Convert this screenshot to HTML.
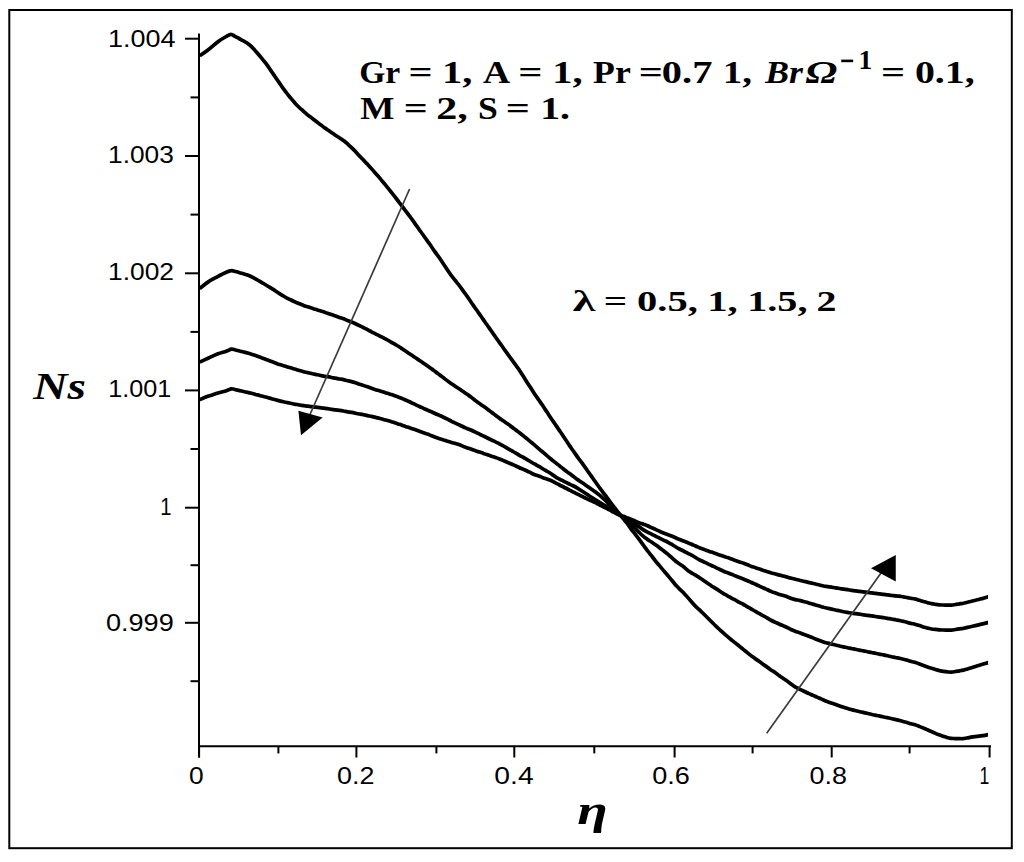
<!DOCTYPE html>
<html><head><meta charset="utf-8"><style>
html,body{margin:0;padding:0;background:#fff;}
svg{display:block;}
text{font-kerning:none;fill:#000;}
</style></head><body>
<svg width="1024" height="862" viewBox="0 0 1024 862">
<rect width="1024" height="862" fill="#fff"/>
<rect x="9.3" y="10" width="1002.5" height="838.2" fill="none" stroke="#000" stroke-width="2"/>
<line x1="199" y1="33.5" x2="199" y2="757.5" stroke="#000" stroke-width="2"/>
<line x1="198" y1="746.2" x2="991" y2="746.2" stroke="#000" stroke-width="2"/>
<line x1="185" y1="38.7" x2="199" y2="38.7" stroke="#000" stroke-width="2"/>
<line x1="185" y1="156.0" x2="199" y2="156.0" stroke="#000" stroke-width="2"/>
<line x1="185" y1="273.3" x2="199" y2="273.3" stroke="#000" stroke-width="2"/>
<line x1="185" y1="390.4" x2="199" y2="390.4" stroke="#000" stroke-width="2"/>
<line x1="185" y1="507.7" x2="199" y2="507.7" stroke="#000" stroke-width="2"/>
<line x1="185" y1="622.8" x2="199" y2="622.8" stroke="#000" stroke-width="2"/>
<line x1="190.5" y1="97.4" x2="199" y2="97.4" stroke="#000" stroke-width="2"/>
<line x1="190.5" y1="214.6" x2="199" y2="214.6" stroke="#000" stroke-width="2"/>
<line x1="190.5" y1="331.9" x2="199" y2="331.9" stroke="#000" stroke-width="2"/>
<line x1="190.5" y1="449.0" x2="199" y2="449.0" stroke="#000" stroke-width="2"/>
<line x1="190.5" y1="565.2" x2="199" y2="565.2" stroke="#000" stroke-width="2"/>
<line x1="190.5" y1="681.2" x2="199" y2="681.2" stroke="#000" stroke-width="2"/>
<line x1="199.1" y1="746.2" x2="199.1" y2="757.5" stroke="#000" stroke-width="2"/>
<line x1="278.4" y1="746.2" x2="278.4" y2="753.4000000000001" stroke="#000" stroke-width="2"/>
<line x1="356.4" y1="746.2" x2="356.4" y2="757.5" stroke="#000" stroke-width="2"/>
<line x1="436.4" y1="746.2" x2="436.4" y2="753.4000000000001" stroke="#000" stroke-width="2"/>
<line x1="514.3" y1="746.2" x2="514.3" y2="757.5" stroke="#000" stroke-width="2"/>
<line x1="594.3" y1="746.2" x2="594.3" y2="753.4000000000001" stroke="#000" stroke-width="2"/>
<line x1="674.6" y1="746.2" x2="674.6" y2="757.5" stroke="#000" stroke-width="2"/>
<line x1="752.6" y1="746.2" x2="752.6" y2="753.4000000000001" stroke="#000" stroke-width="2"/>
<line x1="831.7" y1="746.2" x2="831.7" y2="757.5" stroke="#000" stroke-width="2"/>
<line x1="909.6" y1="746.2" x2="909.6" y2="753.4000000000001" stroke="#000" stroke-width="2"/>
<line x1="989.6" y1="746.2" x2="989.6" y2="757.5" stroke="#000" stroke-width="2"/>
<text transform="translate(108.05,46.70) scale(1.1000,1)" style="font-family:'Liberation Sans',sans-serif;font-weight:normal;font-style:normal;font-size:24.5px">1.004</text>
<text transform="translate(108.10,162.50) scale(1.0725,1)" style="font-family:'Liberation Sans',sans-serif;font-weight:normal;font-style:normal;font-size:24.5px">1.003</text>
<text transform="translate(108.09,279.50) scale(1.0754,1)" style="font-family:'Liberation Sans',sans-serif;font-weight:normal;font-style:normal;font-size:24.5px">1.002</text>
<text transform="translate(108.18,397.20) scale(1.0284,1)" style="font-family:'Liberation Sans',sans-serif;font-weight:normal;font-style:normal;font-size:24.5px">1.001</text>
<text transform="translate(160.26,514.50) scale(0.8236,1)" style="font-family:'Liberation Sans',sans-serif;font-weight:normal;font-style:normal;font-size:24.5px">1</text>
<text transform="translate(105.94,630.80) scale(1.1066,1)" style="font-family:'Liberation Sans',sans-serif;font-weight:normal;font-style:normal;font-size:24.5px">0.999</text>
<text transform="translate(189.07,784.30) scale(1.0758,1)" style="font-family:'Liberation Sans',sans-serif;font-weight:normal;font-style:normal;font-size:24.5px">0</text>
<text transform="translate(337.05,784.30) scale(1.0982,1)" style="font-family:'Liberation Sans',sans-serif;font-weight:normal;font-style:normal;font-size:24.5px">0.2</text>
<text transform="translate(494.29,784.30) scale(1.1549,1)" style="font-family:'Liberation Sans',sans-serif;font-weight:normal;font-style:normal;font-size:24.5px">0.4</text>
<text transform="translate(652.24,784.30) scale(1.1054,1)" style="font-family:'Liberation Sans',sans-serif;font-weight:normal;font-style:normal;font-size:24.5px">0.6</text>
<text transform="translate(809.55,784.30) scale(1.0987,1)" style="font-family:'Liberation Sans',sans-serif;font-weight:normal;font-style:normal;font-size:24.5px">0.8</text>
<text transform="translate(979.46,784.30) scale(0.7195,1)" style="font-family:'Liberation Sans',sans-serif;font-weight:normal;font-style:normal;font-size:24.5px">1</text>
<path d="M199.7,55.8 C201.2,54.8 205.5,51.9 208.6,49.5 C211.7,47.1 215.1,43.9 218.0,41.7 C220.9,39.5 224.1,37.7 226.3,36.5 C228.5,35.3 229.6,34.4 231.0,34.4 C232.4,34.4 233.7,35.7 235.0,36.4 C236.3,37.1 237.7,37.8 239.0,38.5 C240.3,39.2 241.7,40.0 243.0,40.7 C244.3,41.4 245.7,42.0 247.0,42.9 C248.3,43.8 249.7,44.9 251.0,46.1 C252.3,47.4 253.7,48.9 255.0,50.4 C256.3,51.9 257.7,53.4 259.0,55.0 C260.3,56.6 261.7,58.3 263.0,59.9 C264.3,61.5 265.7,63.0 267.0,64.8 C268.3,66.6 269.7,68.7 271.0,70.7 C272.3,72.7 273.7,74.6 275.0,76.6 C276.3,78.5 277.7,80.5 279.0,82.4 C280.3,84.3 281.7,86.2 283.0,88.1 C284.3,89.9 285.7,91.8 287.0,93.5 C288.3,95.2 289.7,96.8 291.0,98.4 C292.3,100.0 293.7,101.6 295.0,103.1 C296.3,104.6 297.7,105.9 299.0,107.2 C300.3,108.5 301.7,109.6 303.0,110.8 C304.3,112.0 305.7,113.2 307.0,114.3 C308.3,115.4 309.7,116.4 311.0,117.4 C312.3,118.4 313.7,119.5 315.0,120.5 C316.3,121.5 317.7,122.6 319.0,123.6 C320.3,124.6 321.7,125.6 323.0,126.6 C324.3,127.6 325.7,128.5 327.0,129.4 C328.3,130.3 329.7,131.3 331.0,132.2 C332.3,133.1 333.7,134.0 335.0,134.9 C336.3,135.8 337.7,136.6 339.0,137.5 C340.3,138.4 341.7,139.2 343.0,140.2 C344.3,141.2 345.7,142.2 347.0,143.4 C348.3,144.6 349.7,145.8 351.0,147.1 C352.3,148.4 353.7,149.7 355.0,151.1 C356.3,152.5 357.7,154.0 359.0,155.4 C360.3,156.8 361.7,158.2 363.0,159.6 C364.3,161.0 365.7,162.4 367.0,163.8 C368.3,165.2 369.7,166.6 371.0,168.1 C372.3,169.6 373.7,171.2 375.0,172.7 C376.3,174.2 377.7,175.6 379.0,177.2 C380.3,178.8 381.7,180.4 383.0,182.0 C384.3,183.6 385.7,185.2 387.0,186.8 C388.3,188.4 389.7,190.1 391.0,191.8 C392.3,193.5 393.7,195.2 395.0,196.9 C396.3,198.6 397.7,200.3 399.0,202.1 C400.3,203.8 401.7,205.6 403.0,207.4 C404.3,209.2 405.7,210.9 407.0,212.7 C408.3,214.5 409.7,216.2 411.0,218.0 C412.3,219.8 413.7,221.7 415.0,223.6 C416.3,225.5 417.7,227.3 419.0,229.2 C420.3,231.1 421.7,232.9 423.0,234.8 C424.3,236.7 425.7,238.5 427.0,240.4 C428.3,242.3 429.7,244.1 431.0,246.0 C432.3,247.9 433.7,250.0 435.0,251.9 C436.3,253.8 437.7,255.4 439.0,257.3 C440.3,259.2 441.7,261.3 443.0,263.3 C444.3,265.3 445.7,267.3 447.0,269.3 C448.3,271.3 449.7,273.3 451.0,275.1 C452.3,276.9 453.7,278.5 455.0,280.2 C456.3,281.9 457.7,283.4 459.0,285.2 C460.3,286.9 461.7,288.9 463.0,290.7 C464.3,292.5 465.7,294.2 467.0,296.1 C468.3,298.0 469.7,300.1 471.0,302.0 C472.3,303.9 473.7,305.8 475.0,307.7 C476.3,309.6 477.7,311.5 479.0,313.4 C480.3,315.3 481.7,317.2 483.0,319.1 C484.3,321.0 485.7,322.9 487.0,324.8 C488.3,326.7 489.7,328.6 491.0,330.5 C492.3,332.4 493.7,334.4 495.0,336.3 C496.3,338.2 497.7,340.0 499.0,341.9 C500.3,343.8 501.7,345.6 503.0,347.5 C504.3,349.4 505.7,351.2 507.0,353.1 C508.3,355.0 509.7,356.8 511.0,358.6 C512.3,360.4 513.7,362.3 515.0,364.1 C516.3,365.9 517.7,367.7 519.0,369.6 C520.3,371.6 521.7,373.7 523.0,375.8 C524.3,377.9 525.7,380.1 527.0,382.2 C528.3,384.3 529.7,386.2 531.0,388.3 C532.3,390.4 533.7,392.5 535.0,394.5 C536.3,396.5 537.7,398.4 539.0,400.3 C540.3,402.2 541.7,404.1 543.0,406.1 C544.3,408.1 545.7,410.1 547.0,412.1 C548.3,414.1 549.7,416.2 551.0,418.2 C552.3,420.2 553.7,422.1 555.0,424.0 C556.3,425.9 557.7,427.9 559.0,429.9 C560.3,431.8 561.7,433.7 563.0,435.7 C564.3,437.7 565.7,439.8 567.0,441.8 C568.3,443.8 569.7,445.8 571.0,447.7 C572.3,449.6 573.7,451.5 575.0,453.4 C576.3,455.3 577.7,457.2 579.0,459.0 C580.3,460.8 581.7,462.6 583.0,464.4 C584.3,466.2 585.7,468.1 587.0,470.0 C588.3,471.9 589.7,473.7 591.0,475.6 C592.3,477.5 593.7,479.4 595.0,481.3 C596.3,483.2 597.7,485.2 599.0,487.0 C600.3,488.8 601.7,490.5 603.0,492.3 C604.3,494.1 605.7,495.8 607.0,497.6 C608.3,499.4 609.7,501.3 611.0,503.1 C612.3,504.9 613.7,506.5 615.0,508.2 C616.3,509.9 617.7,511.7 619.0,513.4 C620.3,515.1 621.7,516.8 623.0,518.4 C624.3,520.0 625.7,521.4 627.0,523.1 C628.3,524.8 629.7,527.0 631.0,528.8 C632.3,530.6 633.7,532.3 635.0,534.0 C636.3,535.7 637.7,537.3 639.0,539.1 C640.3,540.9 641.7,542.8 643.0,544.6 C644.3,546.4 645.7,548.3 647.0,550.1 C648.3,551.9 649.7,553.5 651.0,555.2 C652.3,556.9 653.7,558.6 655.0,560.3 C656.3,562.0 657.7,563.6 659.0,565.2 C660.3,566.8 661.7,568.4 663.0,569.9 C664.3,571.4 665.7,572.9 667.0,574.5 C668.3,576.1 669.7,577.7 671.0,579.3 C672.3,580.9 673.7,582.7 675.0,584.2 C676.3,585.7 677.7,587.0 679.0,588.4 C680.3,589.8 681.7,590.9 683.0,592.3 C684.3,593.7 685.7,595.1 687.0,596.6 C688.3,598.1 689.7,599.7 691.0,601.2 C692.3,602.7 693.7,604.3 695.0,605.7 C696.3,607.1 697.7,608.1 699.0,609.4 C700.3,610.7 701.7,612.0 703.0,613.3 C704.3,614.6 705.7,616.0 707.0,617.3 C708.3,618.6 709.7,620.0 711.0,621.3 C712.3,622.6 713.7,623.9 715.0,625.2 C716.3,626.5 717.7,627.8 719.0,629.0 C720.3,630.2 721.7,631.5 723.0,632.7 C724.3,633.9 725.7,635.0 727.0,636.1 C728.3,637.2 729.7,638.4 731.0,639.5 C732.3,640.6 733.7,641.6 735.0,642.7 C736.3,643.8 737.7,644.8 739.0,645.9 C740.3,647.0 741.7,648.1 743.0,649.2 C744.3,650.3 745.7,651.3 747.0,652.4 C748.3,653.5 749.7,654.6 751.0,655.6 C752.3,656.6 753.7,657.5 755.0,658.5 C756.3,659.5 757.7,660.3 759.0,661.3 C760.3,662.2 761.7,663.2 763.0,664.2 C764.3,665.2 765.7,666.0 767.0,667.0 C768.3,668.0 769.7,669.0 771.0,669.9 C772.3,670.8 773.7,671.5 775.0,672.4 C776.3,673.3 777.7,674.5 779.0,675.5 C780.3,676.5 781.7,677.3 783.0,678.2 C784.3,679.1 785.7,679.9 787.0,680.9 C788.3,681.9 789.7,683.0 791.0,684.0 C792.3,685.0 793.7,686.0 795.0,686.8 C796.3,687.6 797.7,688.1 799.0,688.8 C800.3,689.5 801.7,690.1 803.0,690.8 C804.3,691.4 805.7,692.1 807.0,692.7 C808.3,693.3 809.7,693.9 811.0,694.5 C812.3,695.1 813.7,695.7 815.0,696.3 C816.3,696.9 817.7,697.4 819.0,698.0 C820.3,698.6 821.7,699.1 823.0,699.7 C824.3,700.3 825.7,700.9 827.0,701.4 C828.3,701.9 829.7,702.4 831.0,702.9 C832.3,703.4 833.7,703.8 835.0,704.3 C836.3,704.8 837.7,705.3 839.0,705.8 C840.3,706.3 841.7,706.7 843.0,707.1 C844.3,707.5 845.7,707.9 847.0,708.3 C848.3,708.7 849.7,709.1 851.0,709.5 C852.3,709.9 853.7,710.2 855.0,710.5 C856.3,710.8 857.7,711.2 859.0,711.5 C860.3,711.8 861.7,712.1 863.0,712.4 C864.3,712.7 865.7,713.0 867.0,713.3 C868.3,713.6 869.7,714.0 871.0,714.3 C872.3,714.6 873.7,714.8 875.0,715.1 C876.3,715.4 877.7,715.6 879.0,715.9 C880.3,716.2 881.7,716.5 883.0,716.8 C884.3,717.1 885.7,717.3 887.0,717.6 C888.3,717.9 889.7,718.2 891.0,718.5 C892.3,718.8 893.7,719.1 895.0,719.4 C896.3,719.7 897.7,720.1 899.0,720.4 C900.3,720.7 901.7,721.0 903.0,721.4 C904.3,721.8 905.7,722.1 907.0,722.5 C908.3,722.9 909.7,723.4 911.0,723.8 C912.3,724.2 913.7,724.3 915.0,724.7 C916.3,725.1 917.7,725.8 919.0,726.3 C920.3,726.8 921.7,727.3 923.0,727.9 C924.3,728.5 925.7,729.0 927.0,729.6 C928.3,730.2 929.7,730.8 931.0,731.4 C932.3,732.0 933.7,732.5 935.0,733.1 C936.3,733.7 937.7,734.3 939.0,734.8 C940.3,735.3 941.7,735.8 943.0,736.2 C944.3,736.6 945.7,737.0 947.0,737.4 C948.3,737.8 949.7,738.1 951.0,738.3 C952.3,738.5 953.7,738.5 955.0,738.6 C956.3,738.7 957.7,738.7 959.0,738.7 C960.3,738.7 961.7,738.8 963.0,738.7 C964.3,738.6 965.7,738.2 967.0,738.0 C968.3,737.8 969.7,737.4 971.0,737.2 C972.3,737.0 973.7,736.8 975.0,736.6 C976.3,736.4 977.7,736.4 979.0,736.2 C980.3,736.1 981.7,735.9 983.0,735.7 C984.3,735.5 986.2,735.1 987.0,734.9 C987.8,734.7 987.8,734.6 988.0,734.6" fill="none" stroke="#000" stroke-width="3.7" stroke-linejoin="round"/>
<path d="M199.7,288.4 C201.2,287.3 205.5,283.6 208.6,281.6 C211.7,279.6 215.1,278.0 218.0,276.4 C220.9,274.8 224.1,273.1 226.3,272.2 C228.6,271.2 230.0,270.8 231.5,270.7 C233.0,270.6 234.2,271.2 235.5,271.5 C236.8,271.8 238.2,272.3 239.5,272.7 C240.8,273.1 242.2,273.4 243.5,273.8 C244.8,274.2 246.2,274.5 247.5,275.0 C248.8,275.5 250.2,276.1 251.5,276.7 C252.8,277.3 254.2,278.1 255.5,278.8 C256.8,279.6 258.2,280.4 259.5,281.2 C260.8,282.0 262.2,282.7 263.5,283.5 C264.8,284.3 266.2,285.2 267.5,286.0 C268.8,286.8 270.2,287.6 271.5,288.4 C272.8,289.2 274.2,290.1 275.5,291.0 C276.8,291.9 278.2,292.8 279.5,293.6 C280.8,294.4 282.2,295.2 283.5,296.0 C284.8,296.8 286.2,297.6 287.5,298.3 C288.8,299.0 290.2,299.7 291.5,300.3 C292.8,300.9 294.2,301.5 295.5,302.1 C296.8,302.7 298.2,303.2 299.5,303.8 C300.8,304.4 302.2,304.9 303.5,305.4 C304.8,305.9 306.2,306.3 307.5,306.7 C308.8,307.1 310.2,307.6 311.5,308.0 C312.8,308.4 314.2,308.9 315.5,309.3 C316.8,309.7 318.2,310.2 319.5,310.6 C320.8,311.0 322.2,311.4 323.5,311.8 C324.8,312.2 326.2,312.8 327.5,313.3 C328.8,313.8 330.2,314.2 331.5,314.6 C332.8,315.1 334.2,315.5 335.5,316.0 C336.8,316.5 338.2,316.9 339.5,317.4 C340.8,317.9 342.2,318.3 343.5,318.8 C344.8,319.3 346.2,320.0 347.5,320.5 C348.8,321.0 350.2,321.5 351.5,322.0 C352.8,322.5 354.2,323.1 355.5,323.7 C356.8,324.3 358.2,325.0 359.5,325.7 C360.8,326.4 362.2,327.0 363.5,327.7 C364.8,328.4 366.2,329.0 367.5,329.7 C368.8,330.4 370.2,331.1 371.5,331.8 C372.8,332.5 374.2,333.1 375.5,333.8 C376.8,334.5 378.2,335.1 379.5,335.8 C380.8,336.5 382.2,337.1 383.5,337.8 C384.8,338.5 386.2,339.2 387.5,340.0 C388.8,340.8 390.2,341.5 391.5,342.3 C392.8,343.1 394.2,343.8 395.5,344.6 C396.8,345.4 398.2,346.2 399.5,347.1 C400.8,348.0 402.2,348.8 403.5,349.7 C404.8,350.6 406.2,351.5 407.5,352.4 C408.8,353.3 410.2,354.2 411.5,355.1 C412.8,356.0 414.2,356.9 415.5,357.8 C416.8,358.7 418.2,359.5 419.5,360.4 C420.8,361.3 422.2,362.3 423.5,363.2 C424.8,364.1 426.2,365.1 427.5,366.0 C428.8,366.9 430.2,367.8 431.5,368.8 C432.8,369.8 434.2,370.8 435.5,371.8 C436.8,372.8 438.2,373.8 439.5,374.8 C440.8,375.8 442.2,376.8 443.5,377.8 C444.8,378.8 446.2,379.9 447.5,380.9 C448.8,381.9 450.2,382.8 451.5,383.7 C452.8,384.6 454.2,385.6 455.5,386.5 C456.8,387.4 458.2,388.2 459.5,389.1 C460.8,390.0 462.2,390.9 463.5,391.8 C464.8,392.7 466.2,393.7 467.5,394.6 C468.8,395.5 470.2,396.4 471.5,397.4 C472.8,398.4 474.2,399.6 475.5,400.6 C476.8,401.6 478.2,402.6 479.5,403.5 C480.8,404.4 482.2,405.4 483.5,406.3 C484.8,407.2 486.2,408.2 487.5,409.2 C488.8,410.2 490.2,411.2 491.5,412.2 C492.8,413.2 494.2,414.2 495.5,415.2 C496.8,416.2 498.2,417.3 499.5,418.3 C500.8,419.3 502.2,420.2 503.5,421.1 C504.8,422.0 506.2,422.9 507.5,423.8 C508.8,424.7 510.2,425.7 511.5,426.7 C512.8,427.7 514.2,428.7 515.5,429.7 C516.8,430.7 518.2,431.7 519.5,432.7 C520.8,433.7 522.2,434.8 523.5,435.9 C524.8,437.0 526.2,438.1 527.5,439.2 C528.8,440.3 530.2,441.4 531.5,442.5 C532.8,443.6 534.2,444.8 535.5,445.9 C536.8,447.0 538.2,448.2 539.5,449.3 C540.8,450.4 542.2,451.5 543.5,452.6 C544.8,453.7 546.2,455.0 547.5,456.1 C548.8,457.2 550.2,458.4 551.5,459.5 C552.8,460.6 554.2,461.6 555.5,462.7 C556.8,463.8 558.2,464.8 559.5,465.8 C560.8,466.9 562.2,467.9 563.5,469.0 C564.8,470.1 566.2,471.1 567.5,472.1 C568.8,473.1 570.2,474.0 571.5,475.0 C572.8,476.0 574.2,477.1 575.5,478.1 C576.8,479.1 578.2,480.0 579.5,480.9 C580.8,481.8 582.2,482.7 583.5,483.6 C584.8,484.5 586.2,485.5 587.5,486.4 C588.8,487.3 590.2,488.3 591.5,489.2 C592.8,490.1 594.2,491.0 595.5,492.0 C596.8,493.0 598.2,494.0 599.5,495.1 C600.8,496.2 602.2,497.4 603.5,498.7 C604.8,499.9 606.2,501.2 607.5,502.6 C608.8,504.0 610.2,505.7 611.5,507.1 C612.8,508.5 614.2,509.6 615.5,510.8 C616.8,512.0 618.2,513.3 619.5,514.4 C620.8,515.5 622.2,516.3 623.5,517.4 C624.8,518.5 626.2,519.5 627.5,520.8 C628.8,522.1 630.2,523.9 631.5,525.3 C632.8,526.6 634.2,527.7 635.5,528.9 C636.8,530.1 638.2,531.5 639.5,532.7 C640.8,534.0 642.2,535.3 643.5,536.4 C644.8,537.5 646.2,538.5 647.5,539.5 C648.8,540.5 650.2,541.2 651.5,542.1 C652.8,543.0 654.2,543.9 655.5,544.8 C656.8,545.7 658.2,546.7 659.5,547.7 C660.8,548.7 662.2,549.7 663.5,550.7 C664.8,551.7 666.2,552.8 667.5,553.9 C668.8,555.0 670.2,556.2 671.5,557.4 C672.8,558.6 674.2,559.9 675.5,561.0 C676.8,562.1 678.2,562.9 679.5,563.9 C680.8,564.9 682.2,565.7 683.5,566.7 C684.8,567.8 686.2,569.2 687.5,570.2 C688.8,571.2 690.2,572.0 691.5,572.8 C692.8,573.6 694.2,574.4 695.5,575.2 C696.8,576.0 698.2,576.8 699.5,577.7 C700.8,578.6 702.2,579.5 703.5,580.4 C704.8,581.3 706.2,582.3 707.5,583.2 C708.8,584.1 710.2,585.0 711.5,585.9 C712.8,586.8 714.2,587.5 715.5,588.4 C716.8,589.2 718.2,590.1 719.5,591.0 C720.8,591.9 722.2,592.8 723.5,593.6 C724.8,594.4 726.2,595.0 727.5,595.8 C728.8,596.5 730.2,597.4 731.5,598.1 C732.8,598.8 734.2,599.5 735.5,600.2 C736.8,600.9 738.2,601.7 739.5,602.4 C740.8,603.1 742.2,603.8 743.5,604.5 C744.8,605.2 746.2,606.0 747.5,606.8 C748.8,607.6 750.2,608.3 751.5,609.1 C752.8,609.9 754.2,610.6 755.5,611.4 C756.8,612.2 758.2,613.0 759.5,613.7 C760.8,614.5 762.2,615.1 763.5,615.9 C764.8,616.6 766.2,617.4 767.5,618.2 C768.8,619.0 770.2,619.8 771.5,620.5 C772.8,621.2 774.2,621.8 775.5,622.4 C776.8,623.0 778.2,623.6 779.5,624.2 C780.8,624.8 782.2,625.3 783.5,625.9 C784.8,626.5 786.2,627.1 787.5,627.7 C788.8,628.4 790.2,629.2 791.5,629.8 C792.8,630.4 794.2,630.9 795.5,631.4 C796.8,631.9 798.2,632.2 799.5,632.7 C800.8,633.2 802.2,633.8 803.5,634.3 C804.8,634.8 806.2,635.3 807.5,635.8 C808.8,636.3 810.2,636.8 811.5,637.3 C812.8,637.8 814.2,638.4 815.5,638.9 C816.8,639.4 818.2,639.9 819.5,640.4 C820.8,640.9 822.2,641.5 823.5,642.0 C824.8,642.5 826.2,642.8 827.5,643.1 C828.8,643.5 830.2,643.8 831.5,644.1 C832.8,644.4 834.2,644.7 835.5,645.0 C836.8,645.3 838.2,645.7 839.5,646.0 C840.8,646.3 842.2,646.6 843.5,646.9 C844.8,647.2 846.2,647.4 847.5,647.7 C848.8,648.0 850.2,648.2 851.5,648.5 C852.8,648.8 854.2,649.0 855.5,649.3 C856.8,649.6 858.2,649.8 859.5,650.1 C860.8,650.4 862.2,650.6 863.5,650.9 C864.8,651.2 866.2,651.4 867.5,651.7 C868.8,652.0 870.2,652.2 871.5,652.5 C872.8,652.8 874.2,653.0 875.5,653.3 C876.8,653.6 878.2,653.8 879.5,654.1 C880.8,654.4 882.2,654.6 883.5,654.9 C884.8,655.2 886.2,655.5 887.5,655.8 C888.8,656.1 890.2,656.4 891.5,656.7 C892.8,657.0 894.2,657.2 895.5,657.5 C896.8,657.8 898.2,658.0 899.5,658.3 C900.8,658.6 902.2,658.9 903.5,659.2 C904.8,659.5 906.2,659.9 907.5,660.3 C908.8,660.7 910.2,661.1 911.5,661.5 C912.8,661.9 914.2,662.1 915.5,662.5 C916.8,662.9 918.2,663.4 919.5,663.9 C920.8,664.4 922.2,664.9 923.5,665.4 C924.8,665.9 926.2,666.4 927.5,666.9 C928.8,667.4 930.2,667.8 931.5,668.2 C932.8,668.6 934.2,669.1 935.5,669.5 C936.8,669.9 938.2,670.3 939.5,670.6 C940.8,670.9 942.2,671.2 943.5,671.4 C944.8,671.6 946.2,671.8 947.5,671.9 C948.8,672.0 950.2,672.2 951.5,672.1 C952.8,672.0 954.2,671.7 955.5,671.5 C956.8,671.3 958.2,671.0 959.5,670.8 C960.8,670.6 962.2,670.4 963.5,670.1 C964.8,669.8 966.2,669.3 967.5,668.9 C968.8,668.5 970.2,668.1 971.5,667.7 C972.8,667.3 974.2,666.8 975.5,666.4 C976.8,666.0 978.2,665.6 979.5,665.2 C980.8,664.8 982.2,664.4 983.5,664.0 C984.8,663.6 986.8,663.0 987.5,662.7 C988.2,662.5 987.9,662.5 988.0,662.5" fill="none" stroke="#000" stroke-width="3.7" stroke-linejoin="round"/>
<path d="M199.7,362.1 C201.2,361.4 205.5,359.4 208.6,358.0 C211.7,356.6 215.1,354.9 218.0,353.8 C220.9,352.7 224.1,352.0 226.3,351.2 C228.6,350.4 230.0,349.3 231.5,349.1 C233.0,348.9 234.2,349.7 235.5,350.0 C236.8,350.3 238.2,350.7 239.5,351.0 C240.8,351.3 242.2,351.7 243.5,352.0 C244.8,352.3 246.2,352.6 247.5,353.0 C248.8,353.4 250.2,353.8 251.5,354.2 C252.8,354.6 254.2,355.0 255.5,355.5 C256.8,356.0 258.2,356.5 259.5,357.0 C260.8,357.5 262.2,357.9 263.5,358.4 C264.8,358.9 266.2,359.5 267.5,360.0 C268.8,360.5 270.2,361.1 271.5,361.6 C272.8,362.1 274.2,362.5 275.5,363.0 C276.8,363.5 278.2,364.1 279.5,364.5 C280.8,364.9 282.2,365.3 283.5,365.7 C284.8,366.1 286.2,366.5 287.5,366.9 C288.8,367.3 290.2,367.7 291.5,368.1 C292.8,368.5 294.2,368.9 295.5,369.3 C296.8,369.7 298.2,370.1 299.5,370.5 C300.8,370.9 302.2,371.3 303.5,371.7 C304.8,372.1 306.2,372.3 307.5,372.6 C308.8,372.9 310.2,373.2 311.5,373.5 C312.8,373.8 314.2,374.1 315.5,374.4 C316.8,374.7 318.2,374.9 319.5,375.2 C320.8,375.5 322.2,375.9 323.5,376.1 C324.8,376.4 326.2,376.5 327.5,376.7 C328.8,376.9 330.2,377.2 331.5,377.5 C332.8,377.8 334.2,377.9 335.5,378.2 C336.8,378.4 338.2,378.8 339.5,379.0 C340.8,379.2 342.2,379.3 343.5,379.6 C344.8,379.9 346.2,380.4 347.5,380.7 C348.8,381.0 350.2,381.3 351.5,381.6 C352.8,381.9 354.2,382.3 355.5,382.7 C356.8,383.1 358.2,383.8 359.5,384.2 C360.8,384.6 362.2,385.0 363.5,385.4 C364.8,385.8 366.2,386.3 367.5,386.8 C368.8,387.3 370.2,387.8 371.5,388.3 C372.8,388.8 374.2,389.3 375.5,389.7 C376.8,390.1 378.2,390.4 379.5,390.8 C380.8,391.2 382.2,391.6 383.5,392.0 C384.8,392.4 386.2,392.9 387.5,393.3 C388.8,393.7 390.2,394.2 391.5,394.6 C392.8,395.1 394.2,395.5 395.5,396.0 C396.8,396.5 398.2,396.9 399.5,397.4 C400.8,397.9 402.2,398.5 403.5,399.1 C404.8,399.7 406.2,400.3 407.5,400.9 C408.8,401.5 410.2,402.1 411.5,402.7 C412.8,403.3 414.2,404.0 415.5,404.6 C416.8,405.2 418.2,405.9 419.5,406.5 C420.8,407.1 422.2,407.8 423.5,408.4 C424.8,409.0 426.2,409.5 427.5,410.1 C428.8,410.7 430.2,411.2 431.5,411.8 C432.8,412.4 434.2,413.1 435.5,413.7 C436.8,414.3 438.2,414.8 439.5,415.4 C440.8,416.0 442.2,416.6 443.5,417.2 C444.8,417.8 446.2,418.5 447.5,419.2 C448.8,419.9 450.2,420.6 451.5,421.3 C452.8,422.0 454.2,422.5 455.5,423.1 C456.8,423.7 458.2,424.4 459.5,425.0 C460.8,425.6 462.2,426.4 463.5,427.0 C464.8,427.6 466.2,428.1 467.5,428.7 C468.8,429.2 470.2,429.7 471.5,430.3 C472.8,430.9 474.2,431.5 475.5,432.1 C476.8,432.7 478.2,433.5 479.5,434.1 C480.8,434.8 482.2,435.4 483.5,436.0 C484.8,436.6 486.2,437.3 487.5,438.0 C488.8,438.7 490.2,439.4 491.5,440.0 C492.8,440.6 494.2,441.3 495.5,441.9 C496.8,442.5 498.2,443.1 499.5,443.8 C500.8,444.5 502.2,445.2 503.5,446.0 C504.8,446.8 506.2,447.6 507.5,448.4 C508.8,449.2 510.2,449.9 511.5,450.6 C512.8,451.4 514.2,452.1 515.5,452.9 C516.8,453.7 518.2,454.5 519.5,455.3 C520.8,456.1 522.2,456.8 523.5,457.5 C524.8,458.2 526.2,459.0 527.5,459.8 C528.8,460.6 530.2,461.5 531.5,462.3 C532.8,463.1 534.2,463.8 535.5,464.5 C536.8,465.2 538.2,465.9 539.5,466.7 C540.8,467.5 542.2,468.4 543.5,469.2 C544.8,470.0 546.2,470.7 547.5,471.5 C548.8,472.3 550.2,473.2 551.5,474.1 C552.8,475.0 554.2,476.0 555.5,476.8 C556.8,477.6 558.2,478.4 559.5,479.1 C560.8,479.8 562.2,480.5 563.5,481.2 C564.8,481.9 566.2,482.5 567.5,483.2 C568.8,483.9 570.2,484.5 571.5,485.1 C572.8,485.7 574.2,486.3 575.5,487.0 C576.8,487.7 578.2,488.6 579.5,489.5 C580.8,490.4 582.2,491.2 583.5,492.1 C584.8,493.0 586.2,493.9 587.5,494.7 C588.8,495.5 590.2,496.4 591.5,497.2 C592.8,498.0 594.2,498.9 595.5,499.7 C596.8,500.5 598.2,501.4 599.5,502.2 C600.8,503.0 602.2,503.9 603.5,504.7 C604.8,505.5 606.2,506.3 607.5,507.2 C608.8,508.1 610.2,509.0 611.5,509.8 C612.8,510.6 614.2,511.4 615.5,512.3 C616.8,513.1 618.2,514.0 619.5,514.9 C620.8,515.8 622.2,516.6 623.5,517.4 C624.8,518.2 626.2,519.0 627.5,519.9 C628.8,520.8 630.2,521.7 631.5,522.5 C632.8,523.3 634.2,524.1 635.5,524.9 C636.8,525.7 638.2,526.3 639.5,527.1 C640.8,527.9 642.2,529.1 643.5,529.9 C644.8,530.7 646.2,531.4 647.5,532.1 C648.8,532.8 650.2,533.4 651.5,534.1 C652.8,534.8 654.2,535.4 655.5,536.1 C656.8,536.8 658.2,537.4 659.5,538.1 C660.8,538.8 662.2,539.5 663.5,540.1 C664.8,540.8 666.2,541.3 667.5,542.0 C668.8,542.7 670.2,543.4 671.5,544.2 C672.8,545.0 674.2,545.9 675.5,546.7 C676.8,547.5 678.2,548.3 679.5,549.0 C680.8,549.7 682.2,550.3 683.5,551.0 C684.8,551.7 686.2,552.4 687.5,553.1 C688.8,553.8 690.2,554.5 691.5,555.2 C692.8,555.9 694.2,556.7 695.5,557.5 C696.8,558.3 698.2,559.1 699.5,559.8 C700.8,560.5 702.2,561.1 703.5,561.7 C704.8,562.3 706.2,563.0 707.5,563.6 C708.8,564.2 710.2,564.9 711.5,565.5 C712.8,566.1 714.2,566.8 715.5,567.4 C716.8,568.0 718.2,568.7 719.5,569.3 C720.8,569.9 722.2,570.6 723.5,571.2 C724.8,571.8 726.2,572.2 727.5,572.7 C728.8,573.2 730.2,573.8 731.5,574.3 C732.8,574.8 734.2,575.4 735.5,575.9 C736.8,576.4 738.2,577.0 739.5,577.5 C740.8,578.0 742.2,578.6 743.5,579.1 C744.8,579.6 746.2,580.1 747.5,580.7 C748.8,581.3 750.2,581.9 751.5,582.5 C752.8,583.1 754.2,583.7 755.5,584.3 C756.8,584.9 758.2,585.5 759.5,586.1 C760.8,586.7 762.2,587.4 763.5,588.0 C764.8,588.6 766.2,589.2 767.5,589.8 C768.8,590.4 770.2,591.0 771.5,591.6 C772.8,592.2 774.2,592.6 775.5,593.1 C776.8,593.6 778.2,594.0 779.5,594.4 C780.8,594.8 782.2,595.2 783.5,595.6 C784.8,596.0 786.2,596.4 787.5,596.9 C788.8,597.4 790.2,598.1 791.5,598.6 C792.8,599.1 794.2,599.3 795.5,599.6 C796.8,599.9 798.2,600.1 799.5,600.4 C800.8,600.7 802.2,601.1 803.5,601.5 C804.8,601.9 806.2,602.2 807.5,602.6 C808.8,603.0 810.2,603.4 811.5,603.8 C812.8,604.2 814.2,604.5 815.5,604.9 C816.8,605.3 818.2,605.7 819.5,606.1 C820.8,606.5 822.2,606.9 823.5,607.3 C824.8,607.6 826.2,607.9 827.5,608.2 C828.8,608.5 830.2,608.8 831.5,609.1 C832.8,609.4 834.2,609.7 835.5,610.0 C836.8,610.3 838.2,610.5 839.5,610.8 C840.8,611.1 842.2,611.4 843.5,611.7 C844.8,612.0 846.2,612.2 847.5,612.4 C848.8,612.6 850.2,612.9 851.5,613.1 C852.8,613.3 854.2,613.4 855.5,613.6 C856.8,613.8 858.2,614.0 859.5,614.2 C860.8,614.4 862.2,614.6 863.5,614.8 C864.8,615.0 866.2,615.1 867.5,615.3 C868.8,615.5 870.2,615.7 871.5,615.9 C872.8,616.1 874.2,616.3 875.5,616.5 C876.8,616.7 878.2,616.9 879.5,617.1 C880.8,617.3 882.2,617.5 883.5,617.7 C884.8,617.9 886.2,618.1 887.5,618.3 C888.8,618.5 890.2,618.8 891.5,619.0 C892.8,619.2 894.2,619.5 895.5,619.7 C896.8,620.0 898.2,620.2 899.5,620.5 C900.8,620.8 902.2,621.1 903.5,621.4 C904.8,621.7 906.2,622.0 907.5,622.4 C908.8,622.8 910.2,623.2 911.5,623.5 C912.8,623.8 914.2,624.0 915.5,624.4 C916.8,624.8 918.2,625.2 919.5,625.6 C920.8,626.0 922.2,626.5 923.5,626.9 C924.8,627.3 926.2,627.8 927.5,628.1 C928.8,628.5 930.2,628.8 931.5,629.0 C932.8,629.2 934.2,629.3 935.5,629.4 C936.8,629.5 938.2,629.7 939.5,629.8 C940.8,629.9 942.2,630.0 943.5,630.0 C944.8,630.0 946.2,630.1 947.5,630.1 C948.8,630.1 950.2,630.2 951.5,630.1 C952.8,630.0 954.2,629.7 955.5,629.5 C956.8,629.3 958.2,629.1 959.5,628.9 C960.8,628.7 962.2,628.5 963.5,628.3 C964.8,628.0 966.2,627.7 967.5,627.4 C968.8,627.1 970.2,626.8 971.5,626.5 C972.8,626.2 974.2,625.9 975.5,625.6 C976.8,625.3 978.2,624.9 979.5,624.6 C980.8,624.3 982.2,623.9 983.5,623.6 C984.8,623.3 986.8,622.8 987.5,622.6 C988.2,622.4 987.9,622.5 988.0,622.5" fill="none" stroke="#000" stroke-width="3.7" stroke-linejoin="round"/>
<path d="M199.7,399.7 C201.2,399.1 205.5,397.2 208.6,396.1 C211.7,395.0 215.1,393.8 218.0,392.9 C220.9,392.0 224.1,391.5 226.3,390.8 C228.6,390.1 230.0,389.0 231.5,388.8 C233.0,388.6 234.2,389.4 235.5,389.7 C236.8,390.0 238.2,390.3 239.5,390.6 C240.8,390.9 242.2,391.2 243.5,391.5 C244.8,391.8 246.2,392.1 247.5,392.4 C248.8,392.7 250.2,393.0 251.5,393.3 C252.8,393.6 254.2,394.0 255.5,394.4 C256.8,394.8 258.2,395.0 259.5,395.4 C260.8,395.8 262.2,396.1 263.5,396.5 C264.8,396.9 266.2,397.2 267.5,397.6 C268.8,398.0 270.2,398.3 271.5,398.7 C272.8,399.1 274.2,399.4 275.5,399.8 C276.8,400.2 278.2,400.6 279.5,400.9 C280.8,401.2 282.2,401.5 283.5,401.8 C284.8,402.1 286.2,402.3 287.5,402.6 C288.8,402.9 290.2,403.2 291.5,403.5 C292.8,403.8 294.2,404.1 295.5,404.3 C296.8,404.6 298.2,404.8 299.5,405.0 C300.8,405.2 302.2,405.4 303.5,405.6 C304.8,405.8 306.2,405.9 307.5,406.1 C308.8,406.3 310.2,406.4 311.5,406.6 C312.8,406.8 314.2,406.9 315.5,407.1 C316.8,407.3 318.2,407.5 319.5,407.7 C320.8,407.9 322.2,408.0 323.5,408.2 C324.8,408.4 326.2,408.5 327.5,408.7 C328.8,408.9 330.2,409.1 331.5,409.3 C332.8,409.5 334.2,409.6 335.5,409.8 C336.8,410.0 338.2,410.2 339.5,410.4 C340.8,410.6 342.2,410.8 343.5,411.0 C344.8,411.2 346.2,411.6 347.5,411.8 C348.8,412.0 350.2,412.2 351.5,412.4 C352.8,412.6 354.2,412.9 355.5,413.2 C356.8,413.5 358.2,413.8 359.5,414.0 C360.8,414.2 362.2,414.4 363.5,414.7 C364.8,415.0 366.2,415.3 367.5,415.6 C368.8,415.9 370.2,416.1 371.5,416.4 C372.8,416.7 374.2,417.1 375.5,417.4 C376.8,417.7 378.2,418.1 379.5,418.4 C380.8,418.7 382.2,419.0 383.5,419.4 C384.8,419.8 386.2,420.1 387.5,420.5 C388.8,420.9 390.2,421.3 391.5,421.7 C392.8,422.1 394.2,422.6 395.5,423.0 C396.8,423.4 398.2,423.9 399.5,424.3 C400.8,424.8 402.2,425.2 403.5,425.7 C404.8,426.2 406.2,426.6 407.5,427.1 C408.8,427.6 410.2,428.1 411.5,428.5 C412.8,428.9 414.2,429.3 415.5,429.8 C416.8,430.3 418.2,430.8 419.5,431.3 C420.8,431.8 422.2,432.3 423.5,432.8 C424.8,433.3 426.2,433.6 427.5,434.1 C428.8,434.6 430.2,435.2 431.5,435.7 C432.8,436.2 434.2,436.8 435.5,437.3 C436.8,437.8 438.2,438.3 439.5,438.7 C440.8,439.1 442.2,439.5 443.5,439.9 C444.8,440.3 446.2,440.8 447.5,441.2 C448.8,441.6 450.2,442.0 451.5,442.4 C452.8,442.8 454.2,443.1 455.5,443.5 C456.8,443.9 458.2,444.3 459.5,444.8 C460.8,445.3 462.2,446.0 463.5,446.5 C464.8,447.0 466.2,447.4 467.5,447.9 C468.8,448.4 470.2,448.8 471.5,449.3 C472.8,449.8 474.2,450.3 475.5,450.8 C476.8,451.3 478.2,451.7 479.5,452.1 C480.8,452.5 482.2,452.9 483.5,453.4 C484.8,453.8 486.2,454.3 487.5,454.8 C488.8,455.3 490.2,455.8 491.5,456.2 C492.8,456.6 494.2,457.1 495.5,457.5 C496.8,457.9 498.2,458.4 499.5,458.9 C500.8,459.4 502.2,460.0 503.5,460.6 C504.8,461.2 506.2,461.8 507.5,462.4 C508.8,463.0 510.2,463.4 511.5,464.0 C512.8,464.6 514.2,465.2 515.5,465.8 C516.8,466.4 518.2,467.1 519.5,467.7 C520.8,468.3 522.2,468.8 523.5,469.4 C524.8,470.0 526.2,470.6 527.5,471.2 C528.8,471.8 530.2,472.6 531.5,473.2 C532.8,473.8 534.2,474.4 535.5,474.9 C536.8,475.4 538.2,475.8 539.5,476.3 C540.8,476.8 542.2,477.4 543.5,477.9 C544.8,478.4 546.2,478.8 547.5,479.3 C548.8,479.8 550.2,480.2 551.5,480.8 C552.8,481.4 554.2,482.2 555.5,482.9 C556.8,483.6 558.2,484.3 559.5,485.0 C560.8,485.7 562.2,486.3 563.5,487.0 C564.8,487.7 566.2,488.3 567.5,489.0 C568.8,489.7 570.2,490.4 571.5,491.1 C572.8,491.8 574.2,492.5 575.5,493.2 C576.8,493.9 578.2,494.5 579.5,495.2 C580.8,495.9 582.2,496.5 583.5,497.2 C584.8,497.9 586.2,498.5 587.5,499.1 C588.8,499.7 590.2,500.1 591.5,500.7 C592.8,501.3 594.2,502.0 595.5,502.7 C596.8,503.4 598.2,504.1 599.5,504.8 C600.8,505.5 602.2,506.2 603.5,506.9 C604.8,507.6 606.2,508.2 607.5,508.9 C608.8,509.6 610.2,510.3 611.5,511.0 C612.8,511.7 614.2,512.4 615.5,513.1 C616.8,513.8 618.2,514.5 619.5,515.0 C620.8,515.5 622.2,515.8 623.5,516.3 C624.8,516.8 626.2,517.5 627.5,518.0 C628.8,518.5 630.2,519.1 631.5,519.6 C632.8,520.1 634.2,520.7 635.5,521.3 C636.8,521.9 638.2,522.5 639.5,523.0 C640.8,523.5 642.2,523.7 643.5,524.2 C644.8,524.7 646.2,525.2 647.5,525.8 C648.8,526.4 650.2,527.0 651.5,527.6 C652.8,528.2 654.2,528.8 655.5,529.4 C656.8,530.0 658.2,530.7 659.5,531.3 C660.8,531.9 662.2,532.5 663.5,533.0 C664.8,533.5 666.2,534.0 667.5,534.5 C668.8,535.0 670.2,535.5 671.5,536.0 C672.8,536.5 674.2,537.1 675.5,537.7 C676.8,538.3 678.2,538.9 679.5,539.4 C680.8,539.9 682.2,540.5 683.5,541.0 C684.8,541.5 686.2,542.1 687.5,542.6 C688.8,543.1 690.2,543.6 691.5,544.2 C692.8,544.8 694.2,545.4 695.5,546.0 C696.8,546.6 698.2,547.2 699.5,547.8 C700.8,548.3 702.2,548.8 703.5,549.3 C704.8,549.8 706.2,550.2 707.5,550.7 C708.8,551.2 710.2,551.6 711.5,552.1 C712.8,552.6 714.2,553.0 715.5,553.5 C716.8,554.0 718.2,554.4 719.5,554.9 C720.8,555.4 722.2,555.8 723.5,556.3 C724.8,556.8 726.2,557.1 727.5,557.6 C728.8,558.1 730.2,558.5 731.5,559.0 C732.8,559.5 734.2,559.9 735.5,560.4 C736.8,560.9 738.2,561.4 739.5,561.9 C740.8,562.4 742.2,562.7 743.5,563.2 C744.8,563.7 746.2,564.3 747.5,564.8 C748.8,565.3 750.2,565.9 751.5,566.4 C752.8,566.9 754.2,567.2 755.5,567.7 C756.8,568.2 758.2,568.7 759.5,569.1 C760.8,569.5 762.2,570.0 763.5,570.4 C764.8,570.8 766.2,571.3 767.5,571.7 C768.8,572.1 770.2,572.6 771.5,573.0 C772.8,573.4 774.2,573.6 775.5,574.0 C776.8,574.4 778.2,574.8 779.5,575.1 C780.8,575.5 782.2,575.8 783.5,576.1 C784.8,576.5 786.2,576.8 787.5,577.2 C788.8,577.6 790.2,578.0 791.5,578.3 C792.8,578.6 794.2,578.9 795.5,579.2 C796.8,579.5 798.2,579.9 799.5,580.2 C800.8,580.5 802.2,580.9 803.5,581.2 C804.8,581.5 806.2,581.8 807.5,582.1 C808.8,582.4 810.2,582.8 811.5,583.1 C812.8,583.4 814.2,583.7 815.5,584.0 C816.8,584.3 818.2,584.7 819.5,585.0 C820.8,585.3 822.2,585.7 823.5,586.0 C824.8,586.3 826.2,586.4 827.5,586.6 C828.8,586.8 830.2,587.0 831.5,587.2 C832.8,587.4 834.2,587.7 835.5,587.9 C836.8,588.1 838.2,588.3 839.5,588.5 C840.8,588.7 842.2,588.9 843.5,589.1 C844.8,589.3 846.2,589.5 847.5,589.7 C848.8,589.9 850.2,590.1 851.5,590.3 C852.8,590.5 854.2,590.6 855.5,590.8 C856.8,591.0 858.2,591.1 859.5,591.3 C860.8,591.5 862.2,591.6 863.5,591.8 C864.8,592.0 866.2,592.2 867.5,592.4 C868.8,592.6 870.2,592.7 871.5,592.9 C872.8,593.1 874.2,593.2 875.5,593.4 C876.8,593.6 878.2,593.7 879.5,593.9 C880.8,594.1 882.2,594.2 883.5,594.4 C884.8,594.6 886.2,594.7 887.5,594.9 C888.8,595.1 890.2,595.2 891.5,595.4 C892.8,595.5 894.2,595.7 895.5,595.8 C896.8,595.9 898.2,596.0 899.5,596.2 C900.8,596.4 902.2,596.7 903.5,596.9 C904.8,597.1 906.2,597.4 907.5,597.6 C908.8,597.9 910.2,598.1 911.5,598.4 C912.8,598.6 914.2,598.8 915.5,599.1 C916.8,599.4 918.2,599.9 919.5,600.3 C920.8,600.7 922.2,601.1 923.5,601.5 C924.8,601.9 926.2,602.4 927.5,602.7 C928.8,603.1 930.2,603.3 931.5,603.6 C932.8,603.9 934.2,604.1 935.5,604.3 C936.8,604.5 938.2,604.7 939.5,604.8 C940.8,604.9 942.2,605.0 943.5,605.0 C944.8,605.0 946.2,605.1 947.5,605.1 C948.8,605.1 950.2,605.2 951.5,605.1 C952.8,605.0 954.2,604.7 955.5,604.5 C956.8,604.3 958.2,604.0 959.5,603.8 C960.8,603.6 962.2,603.5 963.5,603.2 C964.8,602.9 966.2,602.5 967.5,602.2 C968.8,601.9 970.2,601.5 971.5,601.2 C972.8,600.9 974.2,600.5 975.5,600.2 C976.8,599.9 978.2,599.5 979.5,599.2 C980.8,598.9 982.2,598.6 983.5,598.2 C984.8,597.8 986.8,597.2 987.5,597.0 C988.2,596.8 987.9,596.9 988.0,596.9" fill="none" stroke="#000" stroke-width="3.7" stroke-linejoin="round"/>
<line x1="409.6" y1="189" x2="308" y2="419" stroke="#3a3a3a" stroke-width="1.7"/>
<polygon points="298.4,410.7 322.6,417.5 301,435.2" fill="#000"/>
<line x1="766.7" y1="733.2" x2="881" y2="573" stroke="#3a3a3a" stroke-width="1.7"/>
<polygon points="871,568.2 895.75,554.9 895.75,581.5" fill="#000"/>
<text transform="translate(359.15,83.40) scale(1.0871,1)" style="font-family:'Liberation Serif',serif;font-weight:bold;font-style:normal;font-size:31px">Gr</text>
<text transform="translate(408.49,83.40) scale(1.3671,1)" style="font-family:'Liberation Serif',serif;font-weight:bold;font-style:normal;font-size:31px">=</text>
<text transform="translate(442.06,83.40) scale(1.3070,1)" style="font-family:'Liberation Serif',serif;font-weight:bold;font-style:normal;font-size:31px">1,</text>
<text transform="translate(483.03,83.40) scale(1.2124,1)" style="font-family:'Liberation Serif',serif;font-weight:bold;font-style:normal;font-size:31px">A</text>
<text transform="translate(518.28,83.40) scale(1.3740,1)" style="font-family:'Liberation Serif',serif;font-weight:bold;font-style:normal;font-size:31px">=</text>
<text transform="translate(552.36,83.40) scale(1.3070,1)" style="font-family:'Liberation Serif',serif;font-weight:bold;font-style:normal;font-size:31px">1,</text>
<text transform="translate(593.09,83.40) scale(1.1524,1)" style="font-family:'Liberation Serif',serif;font-weight:bold;font-style:normal;font-size:31px">Pr</text>
<text transform="translate(638.79,83.40) scale(1.3671,1)" style="font-family:'Liberation Serif',serif;font-weight:bold;font-style:normal;font-size:31px">=</text>
<text transform="translate(661.86,83.40) scale(1.3039,1)" style="font-family:'Liberation Serif',serif;font-weight:bold;font-style:normal;font-size:31px">0.7</text>
<text transform="translate(722.78,83.40) scale(1.2559,1)" style="font-family:'Liberation Serif',serif;font-weight:bold;font-style:normal;font-size:31px">1,</text>
<text transform="translate(765.23,83.40) scale(1.1517,1)" style="font-family:'Liberation Serif',serif;font-weight:bold;font-style:italic;font-size:31px">Br</text>
<text transform="translate(805.61,83.40) scale(1.3670,1)" style="font-family:'Liberation Serif',serif;font-weight:bold;font-style:italic;font-size:31px">Ω</text>
<text transform="translate(881.09,83.40) scale(1.3671,1)" style="font-family:'Liberation Serif',serif;font-weight:bold;font-style:normal;font-size:31px">=</text>
<text transform="translate(914.88,83.40) scale(1.2869,1)" style="font-family:'Liberation Serif',serif;font-weight:bold;font-style:normal;font-size:31px">0.1,</text>
<rect x="841.2" y="59.6" width="12" height="2.6" fill="#000"/>
<text transform="translate(858.40,68.60) scale(1.0161,1)" style="font-family:'Liberation Serif',serif;font-weight:bold;font-style:normal;font-size:27px">1</text>
<text transform="translate(360.18,119.20) scale(1.1675,1)" style="font-family:'Liberation Serif',serif;font-weight:bold;font-style:normal;font-size:31px">M</text>
<text transform="translate(403.80,119.20) scale(1.3602,1)" style="font-family:'Liberation Serif',serif;font-weight:bold;font-style:normal;font-size:31px">=</text>
<text transform="translate(436.33,119.20) scale(1.3579,1)" style="font-family:'Liberation Serif',serif;font-weight:bold;font-style:normal;font-size:31px">2,</text>
<text transform="translate(478.10,119.20) scale(1.1489,1)" style="font-family:'Liberation Serif',serif;font-weight:bold;font-style:normal;font-size:31px">S</text>
<text transform="translate(505.79,119.20) scale(1.3671,1)" style="font-family:'Liberation Serif',serif;font-weight:bold;font-style:normal;font-size:31px">=</text>
<text transform="translate(540.21,119.20) scale(1.2832,1)" style="font-family:'Liberation Serif',serif;font-weight:bold;font-style:normal;font-size:31px">1.</text>
<text transform="translate(572.66,310.80) scale(1.5599,1)" style="font-family:'Liberation Serif',serif;font-weight:bold;font-style:normal;font-size:29.5px">λ</text>
<text transform="translate(603.84,310.80) scale(1.4001,1)" style="font-family:'Liberation Serif',serif;font-weight:bold;font-style:normal;font-size:29.5px">=</text>
<text transform="translate(637.06,310.80) scale(1.3737,1)" style="font-family:'Liberation Serif',serif;font-weight:bold;font-style:normal;font-size:29.5px">0.5,</text>
<text transform="translate(707.13,310.80) scale(1.3842,1)" style="font-family:'Liberation Serif',serif;font-weight:bold;font-style:normal;font-size:29.5px">1,</text>
<text transform="translate(747.18,310.80) scale(1.3639,1)" style="font-family:'Liberation Serif',serif;font-weight:bold;font-style:normal;font-size:29.5px">1.5,</text>
<text transform="translate(816.42,310.80) scale(1.3558,1)" style="font-family:'Liberation Serif',serif;font-weight:bold;font-style:normal;font-size:29.5px">2</text>
<text transform="translate(33.24,399.20) scale(1.2484,1)" style="font-family:'Liberation Serif',serif;font-weight:bold;font-style:italic;font-size:38px">Ns</text>
<text transform="translate(577.26,824.40) scale(1.2902,1)" style="font-family:'Liberation Serif',serif;font-weight:bold;font-style:italic;font-size:43px">η</text>
</svg>
</body></html>
